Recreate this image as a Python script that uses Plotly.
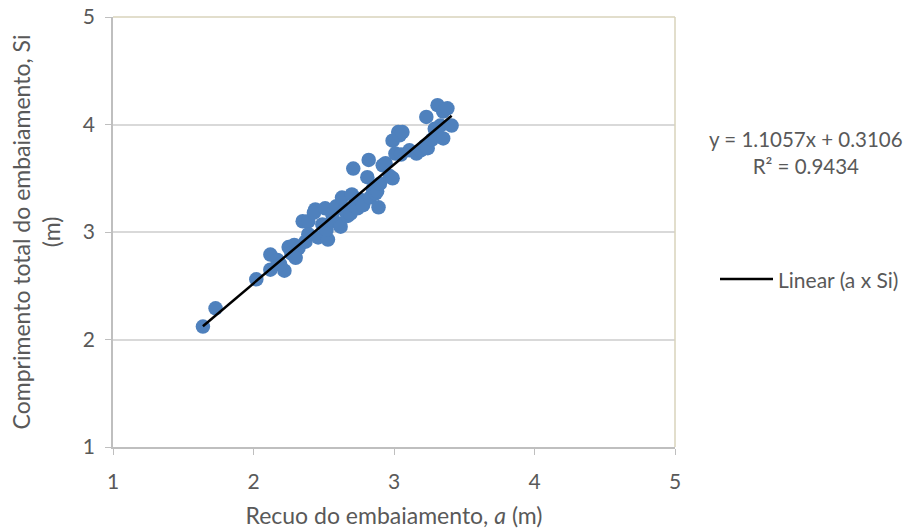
import numpy as np
import plotly.graph_objects as go

# Recuo do embaiamento a (m) and comprimento total Si (m)
a_vals = [1.64, 1.73, 2.02, 2.12, 2.12, 2.17, 2.22, 2.19, 2.25, 2.29,
          2.27, 2.32, 2.30, 2.35, 2.39, 2.37, 2.39, 2.44, 2.43, 2.46,
          2.49, 2.51, 2.53, 2.52, 2.56, 2.56, 2.59, 2.61, 2.62, 2.63,
          2.65, 2.67, 2.69, 2.70, 2.71, 2.72, 2.74, 2.76, 2.77, 2.78,
          2.81, 2.82, 2.83, 2.85, 2.87, 2.88, 2.89, 2.90, 2.92, 2.94,
          2.97, 2.99, 2.99, 3.01, 3.03, 3.04, 3.06, 3.05, 3.11, 3.16,
          3.19, 3.22, 3.24, 3.27, 3.23, 3.29, 3.31, 3.35, 3.38, 3.33,
          3.41, 3.35]
si_vals = [2.12, 2.29, 2.56, 2.79, 2.65, 2.74, 2.64, 2.70, 2.86, 2.88,
           2.80, 2.85, 2.76, 3.10, 3.10, 2.91, 2.98, 3.21, 3.18, 2.95,
           3.07, 3.22, 2.93, 3.02, 3.17, 3.10, 3.24, 3.08, 3.05, 3.32,
           3.20, 3.15, 3.17, 3.35, 3.59, 3.24, 3.22, 3.30, 3.29, 3.25,
           3.51, 3.67, 3.32, 3.40, 3.36, 3.38, 3.23, 3.45, 3.62, 3.64,
           3.52, 3.50, 3.85, 3.73, 3.93, 3.90, 3.93, 3.72, 3.76, 3.73,
           3.76, 3.80, 3.78, 3.86, 4.07, 3.96, 4.18, 4.12, 4.15, 3.99,
           3.99, 3.87]

# Linear trendline coefficients
slope = 1.1057
intercept = 0.3106
r_squared = 0.9434

axis_ticks = [1, 2, 3, 4, 5]

text_gray = "#595959"
font_family = "Lato, 'Open Sans', sans-serif"

# plot-area geometry in pixels (used to place the side texts)
PL, PR, PT, PB = 113, 675, 17, 447
pw, ph = PR - PL, PB - PT


def px(x):
    return (x - PL) / pw


def py(y):
    return (PB - y) / ph


x_fit = np.array([min(a_vals), max(a_vals)])
y_fit = slope * x_fit + intercept

fig = go.Figure()
fig.add_trace(go.Scatter(
    x=a_vals, y=si_vals, mode="markers",
    marker=dict(size=14.5, color="#4F81BD", line=dict(width=0)),
    showlegend=False, name="a x Si",
))
fig.add_trace(go.Scatter(
    x=x_fit, y=y_fit, mode="lines",
    line=dict(color="black", width=2.5),
    showlegend=False, name="Linear (a x Si)",
))

# plot-area frame (top and right edges)
frame = "#D8D3BB"
fig.add_shape(type="line", xref="paper", yref="paper", x0=0, x1=1, y0=1, y1=1,
              line=dict(color=frame, width=1.5))
fig.add_shape(type="line", xref="paper", yref="paper", x0=1, x1=1, y0=0, y1=1,
              line=dict(color=frame, width=1.5))

# trendline legend entry
fig.add_shape(type="line", xref="paper", yref="paper",
              x0=px(720), x1=px(773), y0=py(279), y1=py(279),
              line=dict(color="black", width=2.5))
fig.add_annotation(xref="paper", yref="paper",
                   x=px(776), y=py(279),
                   xanchor="left", yanchor="middle", showarrow=False,
                   text="Linear (a x Si)",
                   font=dict(size=21, color=text_gray, family=font_family))

# trendline equation
fig.add_annotation(xref="paper", yref="paper",
                   x=px(806), y=py(152),
                   xanchor="center", yanchor="middle", showarrow=False,
                   align="center",
                   text=f"y = {slope}x + {intercept}<br>R² = {r_squared}",
                   font=dict(size=20.5, color=text_gray, family=font_family))

fig.update_layout(
    width=909, height=531,
    margin=dict(l=PL, r=909 - PR, t=PT, b=531 - PB),
    paper_bgcolor="white", plot_bgcolor="white",
    font=dict(family=font_family, color=text_gray, size=20),
    xaxis=dict(
        range=[1, 5], tickvals=axis_ticks, showgrid=False, zeroline=False,
        showline=True, linecolor="#BFBFBF", linewidth=1.5,
        ticks="outside", ticklen=6, tickcolor="#BFBFBF",
        ticklabelstandoff=9, automargin=False,
        tickfont=dict(size=21, color=text_gray),
        title=dict(text="Recuo do embaiamento, <i>a</i> (m)",
                   font=dict(size=23, color=text_gray), standoff=16),
    ),
    yaxis=dict(
        range=[1, 5], tickvals=axis_ticks, showgrid=True, gridcolor="#D9D9D9",
        gridwidth=1.5, zeroline=False,
        showline=True, linecolor="#BFBFBF", linewidth=1.5,
        ticks="outside", ticklen=6, tickcolor="#BFBFBF",
        ticklabelstandoff=6, automargin=False,
        tickfont=dict(size=21, color=text_gray),
        title=dict(text="Comprimento total do embaiamento, Si<br>(m)",
                   font=dict(size=23, color=text_gray), standoff=16),
    ),
)

fig.write_html("out.html")
